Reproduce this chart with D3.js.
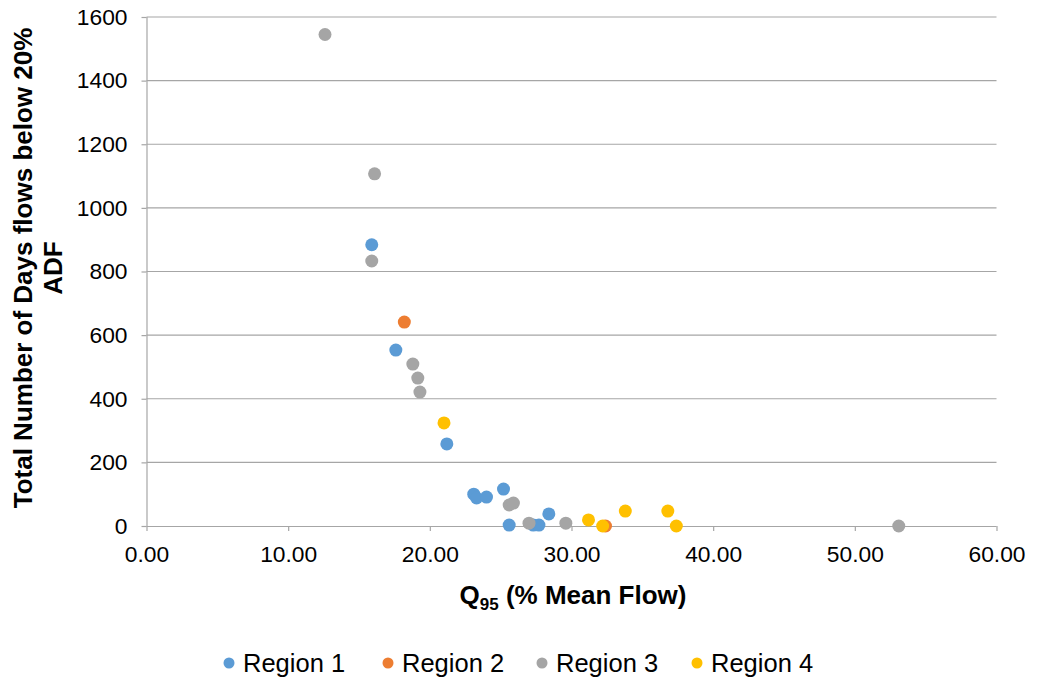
<!DOCTYPE html>
<html><head><meta charset="utf-8">
<script src="https://cdn.jsdelivr.net/npm/d3@7"></script>
<style>body{margin:0;background:#fff;font-family:"Liberation Sans",Arial,sans-serif;}</style>
</head><body>
<svg id="c" width="1037" height="681"></svg>
<script>
const seriesNames = ["Region 1","Region 2","Region 3","Region 4"];
const seriesColors = ["#5b9bd5","#ed7d31","#a5a5a5","#ffc000"];
const region1 = [[15.9,884],[17.6,553],[21.2,258],[23.1,100],[23.3,88],[24.0,91],[25.2,116],[25.6,3],[27.3,3],[27.7,3],[28.4,38]];
const region2 = [[18.2,641],[32.4,0]];
const region3 = [[12.6,1545],[16.1,1107],[15.9,833],[18.8,509],[19.15,465],[19.3,421],[25.6,66],[25.9,72],[27.0,9],[29.6,9],[53.1,0]];
const region4 = [[21.0,324],[31.2,19],[32.2,0],[33.8,47],[36.8,47],[37.4,0]];
const seriesData = [region1, region2, region3, region4];
const xTicks = [0,10,20,30,40,50,60];
const yTicks = [0,200,400,600,800,1000,1200,1400,1600];

const svg = d3.select("#c");
const x = d3.scaleLinear().domain([0,60]).range([146.5,996.5]);
const y = d3.scaleLinear().domain([0,1600]).range([526,17]);

// gridlines
svg.append("g").selectAll("line").data(yTicks.filter(d=>d>0)).join("line")
  .attr("x1",146.5).attr("x2",996.5).attr("y1",d=>y(d)).attr("y2",d=>y(d))
  .attr("stroke","#a6a6a6").attr("stroke-width",1.2);

const xAxis = svg.append("g").attr("transform","translate(0,526)")
  .call(d3.axisBottom(x).tickValues(xTicks).tickFormat(d3.format(".2f")).tickSize(5).tickPadding(15));
const yAxis = svg.append("g").attr("transform","translate(146.5,0)")
  .call(d3.axisLeft(y).tickValues(yTicks).tickFormat(d3.format("d")).tickSize(5).tickPadding(14));
[xAxis,yAxis].forEach(a=>{
  a.selectAll("path").attr("stroke","#a6a6a6").attr("stroke-width",1.2);
  a.selectAll("line").attr("stroke","#a6a6a6").attr("stroke-width",1.2);
  a.selectAll("text").attr("font-family","Liberation Sans, Arial, sans-serif").attr("font-size",22.8).attr("fill","#000");
});
xAxis.select(".domain").attr("d","M146.5,0.5H996.5");
yAxis.select(".domain").attr("d","M0.5,17V526");

// points
seriesData.forEach((data,i)=>{
  svg.append("g").selectAll("circle").data(data).join("circle")
    .attr("cx",d=>x(d[0])).attr("cy",d=>y(d[1])).attr("r",6.5)
    .attr("fill",seriesColors[i]);
});

// axis titles
const xt = svg.append("text").attr("x",573).attr("y",604).attr("text-anchor","middle")
  .attr("font-size",26).attr("font-weight","bold").attr("fill","#000");
xt.append("tspan").text("Q");
xt.append("tspan").text("95").attr("font-size",17).attr("dy",6);
xt.append("tspan").text(" (% Mean Flow)").attr("dy",-6);

const yt = svg.append("text").attr("transform","translate(0,268) rotate(-90)")
  .attr("text-anchor","middle").attr("font-size",26).attr("font-weight","bold").attr("fill","#000");
yt.append("tspan").attr("x",0).attr("y",32).text("Total Number of Days flows below 20%");
yt.append("tspan").attr("x",0).attr("y",62).text("ADF");

// legend
const legX = [229,388,542,697];
const leg = svg.append("g");
seriesNames.forEach((n,i)=>{
  leg.append("circle").attr("cx",legX[i]).attr("cy",663).attr("r",5.5).attr("fill",seriesColors[i]);
  leg.append("text").attr("x",legX[i]+14).attr("y",672).attr("font-size",25.5).attr("fill","#000").text(n);
});
</script>
</body></html>
